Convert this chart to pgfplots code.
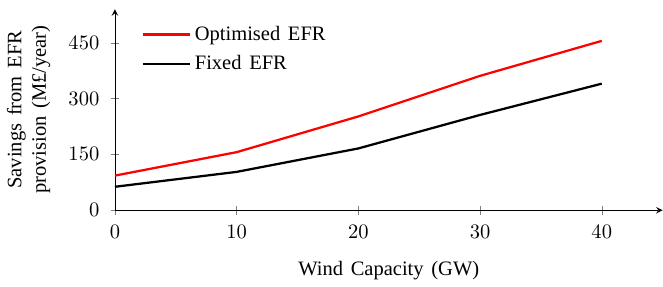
\documentclass[border=0pt]{standalone}
\usepackage{pgfplots}
\pgfplotsset{compat=1.18}
\usepackage{fontspec}
\setmainfont[WordSpace=1.5]{Liberation Serif}
\begin{document}
\begin{tikzpicture}
\begin{axis}[
  scale only axis,
  width=267pt, height=98pt,
  axis lines=left,
  xmin=0, xmax=45,
  ymin=0, ymax=540,
  xtick={0,10,20,30,40},
  ytick={0,150,300,450},
  tick align=center,
  yticklabel style={xshift=-2pt},
  xticklabel style={yshift=-1.5pt},
  xlabel={Wind Capacity (GW)},
  xlabel style={yshift=-4.5pt},
  ylabel={Savings from EFR\\provision (M£/year)},
  ylabel style={align=center, yshift=2pt},
  legend style={draw=none, at={(0.037,0.96)}, anchor=north west, fill=none, row sep=2pt},
  legend cell align=left,
  legend image code/.code={\draw[#1] (0cm,0cm) -- (0.8cm,0cm);},
  every axis plot/.append style={line width=1.1pt},
]
\addplot[red, no markers] coordinates {(0,93) (10,156) (20,252) (30,361) (40,455)};
\addlegendentry{Optimised EFR}
\addplot[black, no markers] coordinates {(0,63) (10,103) (20,166) (30,256) (40,340)};
\addlegendentry{Fixed EFR}
\end{axis}
\path (current axis.north west) ++(0,4.5pt);
\end{tikzpicture}
\end{document}
